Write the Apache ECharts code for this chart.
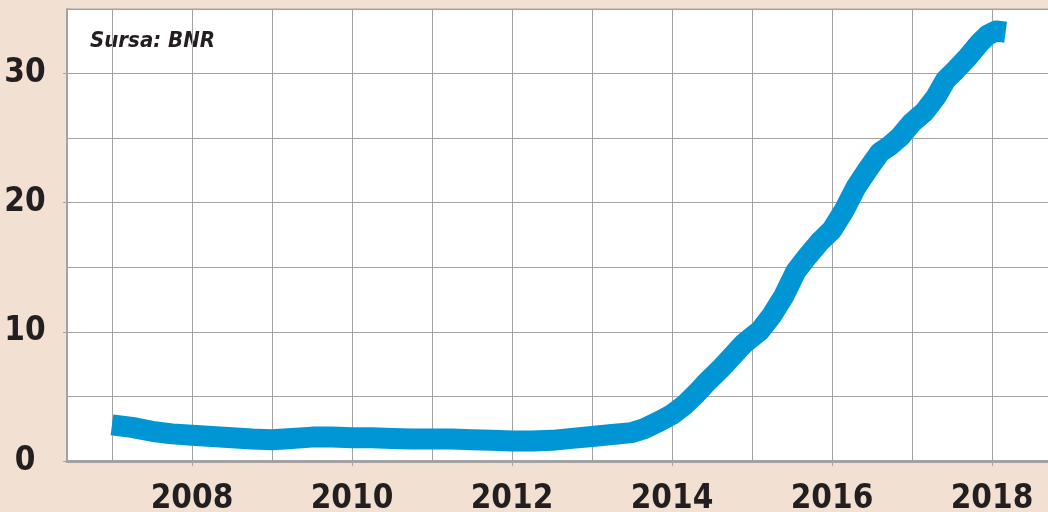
<!DOCTYPE html>
<html>
<head>
<meta charset="utf-8">
<script src="https://cdn.jsdelivr.net/npm/echarts@6/dist/echarts.min.js"></script>
<style>
html, body { margin: 0; padding: 0; background: #f2e1d2; }
#chart { width: 1048px; height: 512px; }
</style>
</head>
<body>
<div id="chart"></div>
<script>
// series: time (fractional year) and value
var years = [
  2007.0, 2007.25, 2007.5, 2007.75, 2008.0, 2008.25, 2008.5, 2008.75,
  2009.0, 2009.25, 2009.5, 2009.75, 2010.0, 2010.25, 2010.5, 2010.75,
  2011.0, 2011.25, 2011.5, 2011.75, 2012.0, 2012.25, 2012.5, 2012.75,
  2013.0, 2013.25, 2013.5, 2013.65, 2013.85, 2014.0, 2014.15, 2014.3,
  2014.45, 2014.6, 2014.75, 2014.9, 2015.0, 2015.1, 2015.25, 2015.4,
  2015.55, 2015.7, 2015.85, 2016.0, 2016.15, 2016.3, 2016.45, 2016.6,
  2016.72, 2016.85, 2017.0, 2017.15, 2017.3, 2017.42, 2017.55, 2017.7,
  2017.85, 2017.95, 2018.05, 2018.17
]
var values = [
  2.8, 2.6, 2.3, 2.1, 2.0, 1.9, 1.8, 1.7,
  1.65, 1.75, 1.85, 1.85, 1.8, 1.8, 1.75, 1.7,
  1.7, 1.7, 1.65, 1.6, 1.55, 1.55, 1.6, 1.75,
  1.9, 2.05, 2.2, 2.5, 3.1, 3.6, 4.3, 5.2,
  6.2, 7.1, 8.1, 9.1, 9.6, 10.1, 11.3, 12.8,
  14.7, 15.9, 17.0, 17.9, 19.4, 21.2, 22.6, 23.9,
  24.4, 25.1, 26.2, 27.0, 28.2, 29.5, 30.3, 31.3,
  32.4, 33.0, 33.3, 33.2
]
var gridYears = [2007, 2008, 2009, 2010, 2011, 2012, 2013, 2014, 2015, 2016, 2017, 2018]
var labelYears = [2008, 2010, 2012, 2014, 2016, 2018]
var yLabels = [0, 10, 20, 30]

var fontFamily = '"Liberation Sans Narrow", "DejaVu Sans Condensed", sans-serif'
var labelFont = {
  fontFamily: fontFamily,
  fontWeight: 'bold',
  fontSize: 33,
  color: '#231f20'
}
var gray = '#a3a3a3'
var xMin = 2006.4375
var xMax = 2018.725

var chart = echarts.init(document.getElementById('chart'))
chart.setOption({
  animation: false,
  backgroundColor: '#f2e1d2',
  grid: {
    left: 67,
    right: -2,
    top: 9,
    bottom: 51,
    outerBoundsMode: 'none',
    show: true,
    backgroundColor: '#ffffff',
    borderColor: gray,
    borderWidth: 1
  },
  graphic: [{
    type: 'text',
    left: 90,
    top: 30,
    style: {
      text: 'Sursa: BNR',
      font: 'italic bold 22px ' + fontFamily,
      fill: '#231f20'
    }
  }],
  xAxis: [{
    type: 'value',
    min: xMin,
    max: xMax,
    position: 'bottom',
    axisLine: { show: true, lineStyle: { color: gray, width: 3 } },
    axisTick: { show: false, customValues: gridYears },
    axisLabel: { show: false },
    splitLine: { show: true, lineStyle: { color: gray, width: 1 } }
  }, {
    type: 'value',
    min: xMin,
    max: xMax,
    position: 'bottom',
    axisLine: { show: false },
    axisTick: { show: true, customValues: labelYears, length: 5, lineStyle: { color: gray, width: 1 } },
    axisLabel: Object.assign({
      customValues: labelYears,
      margin: 22,
      formatter: function (v) { return String(Math.round(v)) }
    }, labelFont),
    splitLine: { show: false }
  }],
  yAxis: [{
    type: 'value',
    min: 0,
    max: 35,
    interval: 5,
    axisLine: { show: true, lineStyle: { color: gray, width: 2 } },
    axisTick: { show: false },
    axisLabel: { show: false },
    splitLine: { show: true, lineStyle: { color: gray, width: 1 } }
  }, {
    type: 'value',
    min: 0,
    max: 35,
    position: 'left',
    axisLine: { show: false },
    axisTick: { show: true, customValues: yLabels, length: 4, lineStyle: { color: gray, width: 1 } },
    axisLabel: Object.assign({ customValues: yLabels, margin: 42, align: 'center' }, labelFont),
    splitLine: { show: false }
  }],
  series: [{
    type: 'line',
    xAxisIndex: 0,
    yAxisIndex: 0,
    showSymbol: false,
    data: years.map(function (y, i) { return [y, values[i]] }),
    lineStyle: { color: '#0096d6', width: 21, cap: 'butt', join: 'round' }
  }]
})
</script>
</body>
</html>
